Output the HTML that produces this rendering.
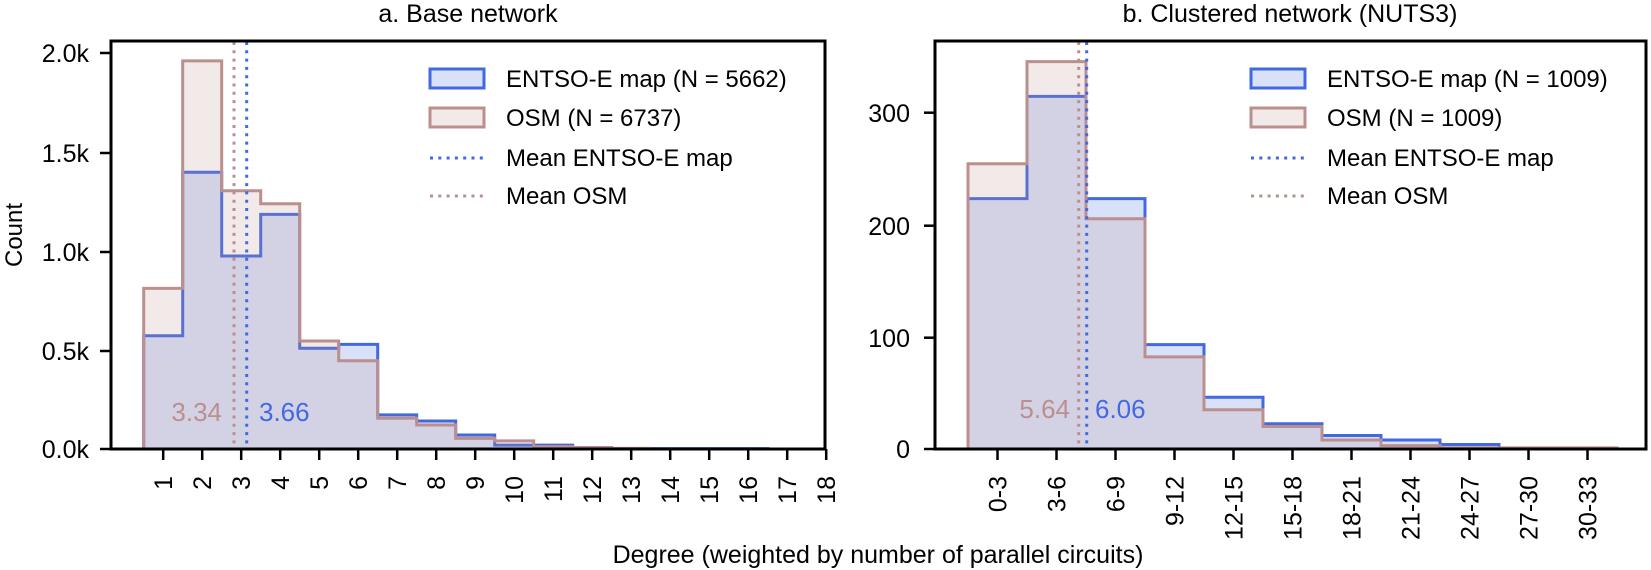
<!DOCTYPE html>
<html><head><meta charset="utf-8"><style>
html,body{margin:0;padding:0;background:#fff;}
svg{display:block;font-family:"Liberation Sans",sans-serif;}
</style></head><body>
<svg width="1651" height="570" viewBox="0 0 1651 570" xmlns="http://www.w3.org/2000/svg">
<rect width="1651" height="570" fill="#fff"/>
<!-- LEFT -->
<path d="M143.7,449 V335.7 H182.7 V172.2 H221.7 V256 H260.7 V214.4 H299.7 V348.3 H338.7 V344.4 H377.7 V414.9 H416.7 V421 H455.7 V435 H494.7 V445.1 H533.7 V445.1 H572.7 V447.6 H611.7 V448.6 H767.7 V449 Z" fill="rgba(65,105,225,0.2)" stroke="#4169e1" stroke-width="3"/>
<path d="M143.7,449 V288.4 H182.7 V60.9 H221.7 V190.7 H260.7 V203.7 H299.7 V341 H338.7 V360.7 H377.7 V418.3 H416.7 V425 H455.7 V438.4 H494.7 V440.9 H533.7 V446.6 H572.7 V447.6 H611.7 V448.4 H650.7 V449 Z" fill="rgba(188,143,143,0.2)" stroke="#bc8f8f" stroke-width="3"/>
<line x1="234" y1="42" x2="234" y2="449" stroke="#bc8f8f" stroke-width="3" stroke-dasharray="3 5.3"/>
<line x1="246.7" y1="42" x2="246.7" y2="449" stroke="#4169e1" stroke-width="3" stroke-dasharray="3 5.3"/>
<text x="222" y="421" font-size="26" fill="#bc8f8f" text-anchor="end">3.34</text>
<text x="259" y="421" font-size="26" fill="#4169e1">3.66</text>
<rect x="111" y="41" width="714" height="408" fill="none" stroke="#000" stroke-width="3"/>
<g stroke="#000" stroke-width="2.5">
<line x1="100" y1="449" x2="111" y2="449"/><line x1="100" y1="351" x2="111" y2="351"/><line x1="100" y1="252" x2="111" y2="252"/><line x1="100" y1="153" x2="111" y2="153"/><line x1="100" y1="53" x2="111" y2="53"/>
</g>
<g font-size="25" text-anchor="end" fill="#000">
<text x="89" y="458">0.0k</text><text x="89" y="360">0.5k</text><text x="89" y="261">1.0k</text><text x="89" y="162">1.5k</text><text x="89" y="62">2.0k</text>
</g>
<text transform="translate(22,235) rotate(-90)" font-size="24" text-anchor="middle">Count</text>
<g stroke="#000" stroke-width="2.5">
<line x1="163.2" y1="449" x2="163.2" y2="460"/><line x1="202.2" y1="449" x2="202.2" y2="460"/><line x1="241.2" y1="449" x2="241.2" y2="460"/><line x1="280.2" y1="449" x2="280.2" y2="460"/><line x1="319.2" y1="449" x2="319.2" y2="460"/><line x1="358.2" y1="449" x2="358.2" y2="460"/><line x1="397.2" y1="449" x2="397.2" y2="460"/><line x1="436.2" y1="449" x2="436.2" y2="460"/><line x1="475.2" y1="449" x2="475.2" y2="460"/><line x1="514.2" y1="449" x2="514.2" y2="460"/><line x1="553.2" y1="449" x2="553.2" y2="460"/><line x1="592.2" y1="449" x2="592.2" y2="460"/><line x1="631.2" y1="449" x2="631.2" y2="460"/><line x1="670.2" y1="449" x2="670.2" y2="460"/><line x1="709.2" y1="449" x2="709.2" y2="460"/><line x1="748.2" y1="449" x2="748.2" y2="460"/><line x1="787.2" y1="449" x2="787.2" y2="460"/><line x1="826.2" y1="449" x2="826.2" y2="460"/>
</g>
<g font-size="25" text-anchor="end">
<text transform="translate(172,476) rotate(-90)">1</text><text transform="translate(211,476) rotate(-90)">2</text><text transform="translate(250,476) rotate(-90)">3</text><text transform="translate(289,476) rotate(-90)">4</text><text transform="translate(328,476) rotate(-90)">5</text><text transform="translate(367,476) rotate(-90)">6</text><text transform="translate(406,476) rotate(-90)">7</text><text transform="translate(445,476) rotate(-90)">8</text><text transform="translate(484,476) rotate(-90)">9</text><text transform="translate(523,476) rotate(-90)">10</text><text transform="translate(562,476) rotate(-90)">11</text><text transform="translate(601,476) rotate(-90)">12</text><text transform="translate(640,476) rotate(-90)">13</text><text transform="translate(679,476) rotate(-90)">14</text><text transform="translate(718,476) rotate(-90)">15</text><text transform="translate(757,476) rotate(-90)">16</text><text transform="translate(796,476) rotate(-90)">17</text><text transform="translate(835,476) rotate(-90)">18</text>
</g>
<text x="468" y="22" font-size="25" text-anchor="middle">a. Base network</text>
<rect x="430" y="69" width="54" height="19" fill="rgba(65,105,225,0.2)" stroke="#4169e1" stroke-width="3"/>
<rect x="430" y="108" width="54" height="19" fill="rgba(188,143,143,0.2)" stroke="#bc8f8f" stroke-width="3"/>
<line x1="430" y1="158" x2="484" y2="158" stroke="#4169e1" stroke-width="3" stroke-dasharray="3 5.3"/>
<line x1="430" y1="196" x2="484" y2="196" stroke="#bc8f8f" stroke-width="3" stroke-dasharray="3 5.3"/>
<g font-size="24"><text x="506" y="87">ENTSO-E map (N = 5662)</text><text x="506" y="126">OSM (N = 6737)</text><text x="506" y="166">Mean ENTSO-E map</text><text x="506" y="204">Mean OSM</text></g>

<!-- RIGHT -->
<path d="M968,449 V198.6 H1027 V96.4 H1086 V198.6 H1145 V344.6 H1204 V397.3 H1263 V423.7 H1322 V435.5 H1381 V440 H1440 V444.5 H1499 V449 Z" fill="rgba(65,105,225,0.2)" stroke="#4169e1" stroke-width="3"/>
<path d="M968,449 V163.8 H1027 V61.6 H1086 V218.8 H1145 V356.9 H1204 V409.7 H1263 V426.5 H1322 V440 H1381 V445.6 H1440 V447.9 H1617 V449 Z" fill="rgba(188,143,143,0.2)" stroke="#bc8f8f" stroke-width="3"/>
<line x1="1078.7" y1="42" x2="1078.7" y2="449" stroke="#bc8f8f" stroke-width="3" stroke-dasharray="3 5.3"/>
<line x1="1086.7" y1="42" x2="1086.7" y2="449" stroke="#4169e1" stroke-width="3" stroke-dasharray="3 5.3"/>
<text x="1070" y="418" font-size="26" fill="#bc8f8f" text-anchor="end">5.64</text>
<text x="1095" y="418" font-size="26" fill="#4169e1">6.06</text>
<rect x="935" y="41" width="711" height="408" fill="none" stroke="#000" stroke-width="3"/>
<g stroke="#000" stroke-width="2.5">
<line x1="924" y1="449" x2="935" y2="449"/><line x1="924" y1="337.7" x2="935" y2="337.7"/><line x1="924" y1="225.7" x2="935" y2="225.7"/><line x1="924" y1="112.7" x2="935" y2="112.7"/>
</g>
<g font-size="25" text-anchor="end">
<text x="910" y="458">0</text><text x="910" y="347">100</text><text x="910" y="235">200</text><text x="910" y="122">300</text>
</g>
<g stroke="#000" stroke-width="2.5">
<line x1="997.5" y1="449" x2="997.5" y2="460"/><line x1="1056.5" y1="449" x2="1056.5" y2="460"/><line x1="1115.5" y1="449" x2="1115.5" y2="460"/><line x1="1174.5" y1="449" x2="1174.5" y2="460"/><line x1="1233.5" y1="449" x2="1233.5" y2="460"/><line x1="1292.5" y1="449" x2="1292.5" y2="460"/><line x1="1351.5" y1="449" x2="1351.5" y2="460"/><line x1="1410.5" y1="449" x2="1410.5" y2="460"/><line x1="1469.5" y1="449" x2="1469.5" y2="460"/><line x1="1528.5" y1="449" x2="1528.5" y2="460"/><line x1="1587.5" y1="449" x2="1587.5" y2="460"/>
</g>
<g font-size="25" text-anchor="end">
<text transform="translate(1006.5,476) rotate(-90)">0-3</text><text transform="translate(1065.5,476) rotate(-90)">3-6</text><text transform="translate(1124.5,476) rotate(-90)">6-9</text><text transform="translate(1183.5,476) rotate(-90)">9-12</text><text transform="translate(1242.5,476) rotate(-90)">12-15</text><text transform="translate(1301.5,476) rotate(-90)">15-18</text><text transform="translate(1360.5,476) rotate(-90)">18-21</text><text transform="translate(1419.5,476) rotate(-90)">21-24</text><text transform="translate(1478.5,476) rotate(-90)">24-27</text><text transform="translate(1537.5,476) rotate(-90)">27-30</text><text transform="translate(1596.5,476) rotate(-90)">30-33</text>
</g>
<text x="1290" y="22" font-size="25" text-anchor="middle">b. Clustered network (NUTS3)</text>
<rect x="1251" y="69" width="54" height="19" fill="rgba(65,105,225,0.2)" stroke="#4169e1" stroke-width="3"/>
<rect x="1251" y="108" width="54" height="19" fill="rgba(188,143,143,0.2)" stroke="#bc8f8f" stroke-width="3"/>
<line x1="1251" y1="158" x2="1305" y2="158" stroke="#4169e1" stroke-width="3" stroke-dasharray="3 5.3"/>
<line x1="1251" y1="196" x2="1305" y2="196" stroke="#bc8f8f" stroke-width="3" stroke-dasharray="3 5.3"/>
<g font-size="24"><text x="1327" y="87">ENTSO-E map (N = 1009)</text><text x="1327" y="126">OSM (N = 1009)</text><text x="1327" y="166">Mean ENTSO-E map</text><text x="1327" y="204">Mean OSM</text></g>

<text x="878" y="563" font-size="25" text-anchor="middle">Degree (weighted by number of parallel circuits)</text>
</svg>
</body></html>
